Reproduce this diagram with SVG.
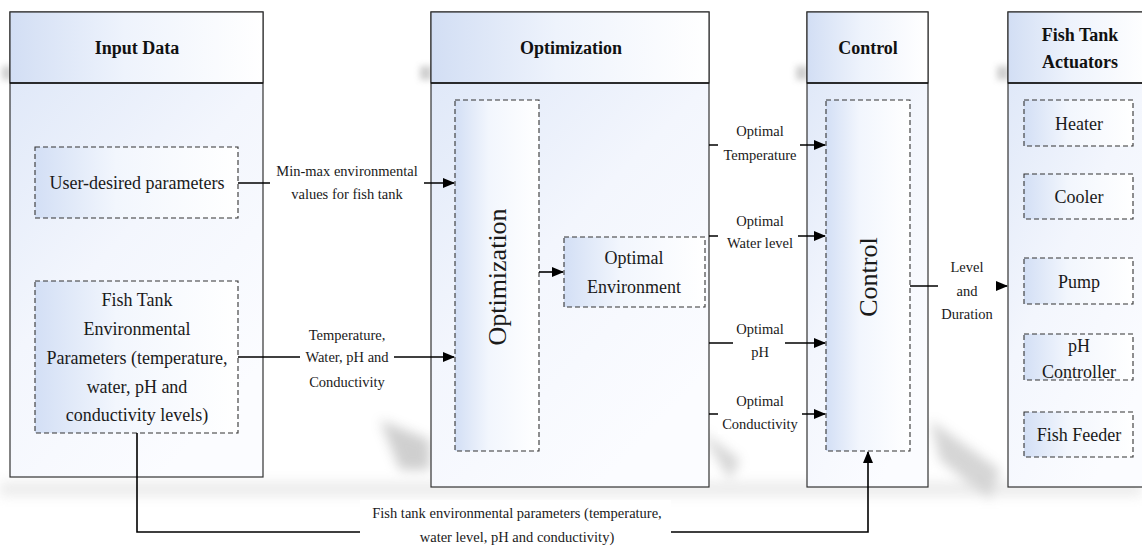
<svg xmlns="http://www.w3.org/2000/svg" width="1142" height="546" viewBox="0 0 1142 546">
  <defs>
    <linearGradient id="panelFill" x1="0" y1="0" x2="1" y2="0">
      <stop offset="0" stop-color="#d2def4"/>
      <stop offset="0.45" stop-color="#eef3fc"/>
      <stop offset="1" stop-color="#ffffff"/>
    </linearGradient>
    <linearGradient id="bodyFill" x1="0" y1="0" x2="0.6" y2="1">
      <stop offset="0" stop-color="#dbe5f7"/>
      <stop offset="0.55" stop-color="#f3f6fd"/>
      <stop offset="1" stop-color="#fbfcff"/>
    </linearGradient>
    <linearGradient id="boxFill" x1="0" y1="0" x2="1" y2="0">
      <stop offset="0" stop-color="#d3dff5"/>
      <stop offset="0.4" stop-color="#f2f6fd"/>
      <stop offset="1" stop-color="#ffffff"/>
    </linearGradient>
    <filter id="soft" x="-30%" y="-30%" width="160%" height="160%">
      <feGaussianBlur stdDeviation="6"/>
    </filter>
    <filter id="softSmall" x="-50%" y="-50%" width="200%" height="200%">
      <feGaussianBlur stdDeviation="3"/>
    </filter>
    <marker id="arrow" markerWidth="12" markerHeight="10" refX="11" refY="5" orient="auto" markerUnits="userSpaceOnUse">
      <path d="M0,0 L12,5 L0,10 z" fill="#000"/>
    </marker>
  </defs>
  <style>
    .panel { fill: url(#panelFill); stroke: #333; stroke-width: 1.2; }
    .body { fill: url(#bodyFill); stroke: #333; stroke-width: 1.2; }
    .hline { stroke: #111; stroke-width: 1.4; }
    .dash { fill: url(#boxFill); stroke: #333; stroke-width: 1.1; stroke-dasharray: 5 3; }
    .head { font-family: "Liberation Serif", "Times New Roman", serif; font-weight: bold; font-size: 18px; fill: #111; text-anchor: middle; }
    .txt { font-family: "Liberation Serif", "Times New Roman", serif; font-size: 18px; fill: #1a1a1a; text-anchor: middle; }
    .lbl { font-family: "Liberation Serif", "Times New Roman", serif; font-size: 14.5px; fill: #1a1a1a; text-anchor: middle; }
    .vert { font-family: "Liberation Serif", "Times New Roman", serif; font-size: 26px; fill: #1a1a1a; text-anchor: middle; }
    .wire { fill: none; stroke: #000; stroke-width: 1.6; }
    .bg { fill: #ffffff; }
  </style>

  <rect width="1142" height="546" fill="#ffffff"/>

  <!-- soft drop shadows -->
  <g id="shadows" opacity="0.35" filter="url(#soft)">
    <rect x="0" y="482" width="1142" height="14" fill="#c8c8c8"/>
    <polygon points="380,420 430,440 430,470 400,470" fill="#777"/>
    <polygon points="700,430 740,460 730,480" fill="#888"/>
    <polygon points="930,420 1000,470 990,500 940,460" fill="#888"/>
  </g>
  <g id="header-shadows" opacity="0.4" filter="url(#softSmall)">
    <rect x="2" y="66" width="10" height="14" fill="#888"/>
    <rect x="420" y="66" width="12" height="14" fill="#888"/>
    <rect x="796" y="66" width="12" height="14" fill="#888"/>
    <rect x="997" y="66" width="12" height="14" fill="#888"/>
  </g>

  <!-- Input Data panel -->
  <g id="input-data">
    <rect class="body" x="10" y="12" width="253" height="465"/>
    <rect class="panel" x="10" y="12" width="253" height="71"/>
    <line class="hline" x1="10" y1="83" x2="263" y2="83"/>
    <text class="head" x="137" y="54">Input Data</text>
  </g>
  <g id="user-params">
    <rect class="dash" x="35" y="147" width="203" height="71"/>
    <text class="txt" x="137" y="189">User-desired parameters</text>
  </g>
  <g id="env-params">
    <rect class="dash" x="35" y="281" width="203" height="152"/>
    <text class="txt" x="137" y="306">Fish Tank</text>
    <text class="txt" x="137" y="335">Environmental</text>
    <text class="txt" x="137" y="364">Parameters (temperature,</text>
    <text class="txt" x="137" y="393">water, pH and</text>
    <text class="txt" x="137" y="421">conductivity levels)</text>
  </g>

  <!-- Optimization panel -->
  <g id="optimization">
    <rect class="body" x="431" y="12" width="278" height="475"/>
    <rect class="panel" x="431" y="12" width="278" height="71"/>
    <line class="hline" x1="431" y1="83" x2="709" y2="83"/>
    <text class="head" x="571" y="54">Optimization</text>
  </g>
  <g id="optimizer">
    <rect class="dash" x="455" y="100" width="84" height="351"/>
    <text class="vert" transform="translate(506,277) rotate(-90)">Optimization</text>
  </g>
  <g id="optimal-environment">
    <rect class="dash" x="564" y="237" width="141" height="70"/>
    <text class="txt" x="634" y="264">Optimal</text>
    <text class="txt" x="634" y="293">Environment</text>
  </g>

  <!-- Control panel -->
  <g id="control">
    <rect class="body" x="807" y="12" width="121" height="475"/>
    <rect class="panel" x="807" y="12" width="121" height="71"/>
    <line class="hline" x1="807" y1="83" x2="928" y2="83"/>
    <text class="head" x="868" y="54">Control</text>
  </g>
  <g id="controller">
    <rect class="dash" x="826" y="100" width="84" height="351"/>
    <text class="vert" transform="translate(877,277) rotate(-90)">Control</text>
  </g>

  <!-- Fish Tank Actuators panel -->
  <g id="actuators">
    <rect class="body" x="1008" y="12" width="140" height="475"/>
    <rect class="panel" x="1008" y="12" width="140" height="71"/>
    <line class="hline" x1="1008" y1="83" x2="1142" y2="83"/>
    <text class="head" x="1080" y="41">Fish Tank</text>
    <text class="head" x="1080" y="68">Actuators</text>
  </g>
  <g id="heater">
    <rect class="dash" x="1024" y="100" width="109" height="46"/>
    <text class="txt" x="1079" y="130">Heater</text>
  </g>
  <g id="cooler">
    <rect class="dash" x="1024" y="174" width="109" height="45"/>
    <text class="txt" x="1079" y="203">Cooler</text>
  </g>
  <g id="pump">
    <rect class="dash" x="1024" y="258" width="109" height="46"/>
    <text class="txt" x="1079" y="288">Pump</text>
  </g>
  <g id="ph-controller">
    <rect class="dash" x="1024" y="334" width="109" height="46"/>
    <text class="txt" x="1079" y="352">pH</text>
    <text class="txt" x="1079" y="378">Controller</text>
  </g>
  <g id="fish-feeder">
    <rect class="dash" x="1024" y="412" width="109" height="45"/>
    <text class="txt" x="1079" y="441">Fish Feeder</text>
  </g>

  <!-- Connectors -->
  <g id="connectors">
    <path class="wire" d="M238,183 H454" marker-end="url(#arrow)"/>
    <path class="wire" d="M238,357 H454" marker-end="url(#arrow)"/>
    <path class="wire" d="M539,272 H563" marker-end="url(#arrow)"/>
    <path class="wire" d="M709,145 H825" marker-end="url(#arrow)"/>
    <path class="wire" d="M709,236 H825" marker-end="url(#arrow)"/>
    <path class="wire" d="M709,343 H825" marker-end="url(#arrow)"/>
    <path class="wire" d="M709,414 H825" marker-end="url(#arrow)"/>
    <path class="wire" d="M910,286 H1007" marker-end="url(#arrow)"/>
    <path class="wire" d="M137,433 V532 H868 V452" marker-end="url(#arrow)"/>
  </g>

  <!-- Connector labels -->
  <g id="labels">
    <rect class="bg" x="270" y="160" width="154" height="44"/>
    <text class="lbl" x="347" y="176">Min-max environmental</text>
    <text class="lbl" x="347" y="199">values for fish tank</text>

    <rect class="bg" x="300" y="324" width="94" height="68"/>
    <text class="lbl" x="347" y="340">Temperature,</text>
    <text class="lbl" x="347" y="362">Water, pH and</text>
    <text class="lbl" x="347" y="387">Conductivity</text>

    <rect class="bg" x="718" y="120" width="82" height="44"/>
    <text class="lbl" x="760" y="136">Optimal</text>
    <text class="lbl" x="760" y="160">Temperature</text>

    <rect class="bg" x="718" y="210" width="80" height="44"/>
    <text class="lbl" x="760" y="226">Optimal</text>
    <text class="lbl" x="760" y="248">Water level</text>

    <rect class="bg" x="733" y="318" width="52" height="44"/>
    <text class="lbl" x="760" y="334">Optimal</text>
    <text class="lbl" x="760" y="357">pH</text>

    <rect class="bg" x="718" y="390" width="84" height="44"/>
    <text class="lbl" x="760" y="406">Optimal</text>
    <text class="lbl" x="760" y="429">Conductivity</text>

    <rect class="bg" x="938" y="256" width="58" height="68"/>
    <text class="lbl" x="967" y="272">Level</text>
    <text class="lbl" x="967" y="296">and</text>
    <text class="lbl" x="967" y="319">Duration</text>

    <rect class="bg" x="360" y="500" width="311" height="46"/>
    <text class="lbl" x="517" y="518">Fish tank environmental parameters (temperature,</text>
    <text class="lbl" x="517" y="542">water level, pH and conductivity)</text>
  </g>
</svg>
